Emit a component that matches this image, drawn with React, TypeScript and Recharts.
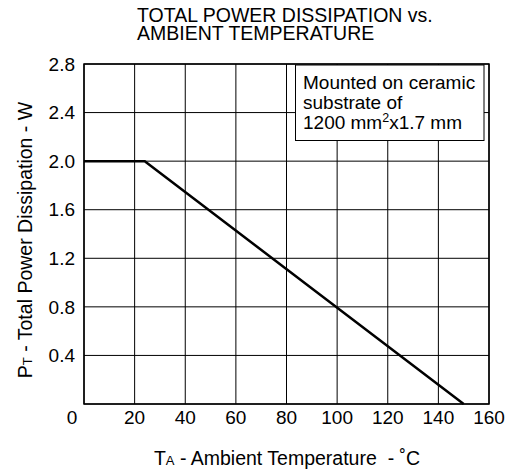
import React from "react";
import { LineChart, Line, XAxis, YAxis, CartesianGrid, ReferenceArea } from "recharts";

const temperature = [0, 24, 150];
const power = [2.0, 2.0, 0];
const xTicks = [0, 20, 40, 60, 80, 100, 120, 140, 160];
const yTicks = [0, 0.4, 0.8, 1.2, 1.6, 2.0, 2.4, 2.8];
const titleLines = ["TOTAL POWER DISSIPATION vs.", "AMBIENT TEMPERATURE"];
const noteLines = ["Mounted on ceramic", "substrate of"];

const data = temperature.map((t, i) => ({ t, p: power[i] }));

const FONT = "'Liberation Sans', Arial, Helvetica, sans-serif";
const FS = 19;
const TS = 19.5;

const renderXTick = (props: any) => {
  const { x, y, payload } = props;
  const v = payload.value;
  return (
    <text x={v === 0 ? x - 12 : x} y={y} dy="0.71em" textAnchor="middle" fill="#000" fontSize={FS} fontFamily={FONT}>
      {v}
    </text>
  );
};

const renderYTick = (props: any) => {
  const { x, y, payload } = props;
  const v = payload.value;
  if (v === 0) return <g />;
  return (
    <text x={x} y={y} dy="0.355em" textAnchor="end" fill="#000" fontSize={FS} fontFamily={FONT}>
      {Number(v).toFixed(1)}
    </text>
  );
};

export default function App() {
  return (
    <div style={{ position: "absolute", left: 0, top: 0, width: 510, height: 471, background: "#fff" }}>
      <LineChart width={510} height={471} data={data} margin={{ top: 64, right: 21, bottom: 37, left: 44 }}>
        <CartesianGrid stroke="#000" strokeWidth={1} />
        <XAxis
          type="number"
          dataKey="t"
          domain={[0, 160]}
          ticks={xTicks}
          interval={0}
          height={30}
          tickLine={false}
          axisLine={false}
          tickSize={0}
          tickMargin={7}
          tick={renderXTick}
        />
        <YAxis
          type="number"
          domain={[0, 2.8]}
          ticks={yTicks}
          interval={0}
          width={40}
          tickLine={false}
          axisLine={false}
          tickSize={0}
          tickMargin={9}
          tick={renderYTick}
        />
        <ReferenceArea x1={0} x2={160} y1={0} y2={2.8} fill="none" stroke="#000" strokeWidth={1.5} ifOverflow="visible" />
        <Line type="linear" dataKey="p" stroke="#000" strokeWidth={2.5} dot={false} isAnimationActive={false} />
      </LineChart>
      <svg width={510} height={471} style={{ position: "absolute", left: 0, top: 0, pointerEvents: "none" }} fontFamily={FONT}>
        <text fontSize={TS} fill="#000">
          <tspan x={137} y={22}>{titleLines[0]}</tspan>
          <tspan x={137} y={39.5}>{titleLines[1]}</tspan>
        </text>
        <rect x={295.5} y={65} width={188.5} height={75.5} fill="#fff" stroke="#000" strokeWidth={1} />
        <text fontSize={FS} fill="#000">
          <tspan x={303} y={89}>{noteLines[0]}</tspan>
          <tspan x={303} y={109}>{noteLines[1]}</tspan>
          <tspan x={303} y={129}>1200 mm</tspan>
          <tspan fontSize={12.5} dy={-7}>2</tspan>
          <tspan dy={7}>x1.7 mm</tspan>
        </text>
        <text x={287} y={465} fontSize={TS} fill="#000" textAnchor="middle" style={{ whiteSpace: "pre" }}>
          T<tspan fontSize={13}>A</tspan> - Ambient Temperature  - ˚C
        </text>
        <text x={32} y={240} fontSize={TS} fill="#000" textAnchor="middle" transform="rotate(-90, 32, 240)">
          P<tspan fontSize={13}>T</tspan> - Total Power Dissipation - W
        </text>
      </svg>
    </div>
  );
}
